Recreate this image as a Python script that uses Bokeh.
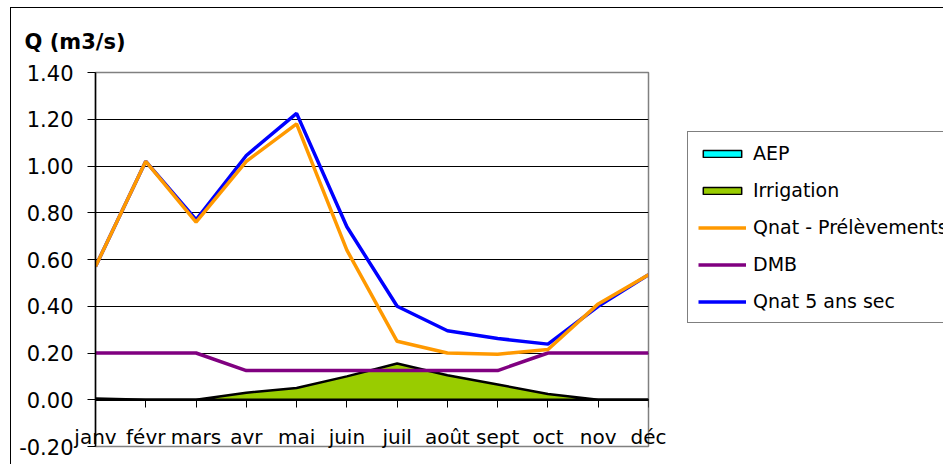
from bokeh.plotting import figure
from bokeh.layouts import row
from bokeh.models import FixedTicker, Legend, LegendItem, Range1d, LinearAxis
from bokeh.embed import file_html
from bokeh.resources import INLINE

months = ["janv", "févr", "mars", "avr", "mai", "juin", "juil", "août", "sept", "oct", "nov", "déc"]
aep = [0.0, 0.0, 0.0, 0.0, 0.0, 0.0, 0.0, 0.0, 0.0, 0.0, 0.0, 0.0]
irrigation = [0.005, 0.0, 0.0, 0.03, 0.05, 0.10, 0.155, 0.105, 0.065, 0.025, 0.0, 0.0]
qnat_prel = [0.57, 1.02, 0.76, 1.02, 1.18, 0.64, 0.25, 0.20, 0.195, 0.215, 0.41, 0.535]
dmb = [0.2, 0.2, 0.2, 0.125, 0.125, 0.125, 0.125, 0.125, 0.125, 0.2, 0.2, 0.2]
qnat5 = [0.57, 1.02, 0.77, 1.045, 1.225, 0.74, 0.40, 0.295, 0.262, 0.238, 0.40, 0.535]
y_ticks = [-0.2, 0.0, 0.2, 0.4, 0.6, 0.8, 1.0, 1.2, 1.4]
labels = ["AEP", "Irrigation", "Qnat - Prélèvements", "DMB", "Qnat 5 ans sec"]

FONT = "DejaVu Sans"
C_AEP, C_IRR, C_QP, C_DMB, C_Q5 = "#00FFFF", "#99CC00", "#FF9900", "#800080", "#0000FF"
x = list(range(len(months)))
base = [0.0] * len(x)
aep_top = [b + a for b, a in zip(base, aep)]
irr_top = [a + i for a, i in zip(aep_top, irrigation)]


def draw_series(fig, lw_area):
    r_aep = fig.patch(x + x[::-1], aep_top + base[::-1], fill_color=C_AEP,
                      line_color="black", line_width=lw_area)
    r_irr = fig.patch(x + x[::-1], irr_top + aep_top[::-1], fill_color=C_IRR,
                      line_color="black", line_width=lw_area)
    r_dmb = fig.line(x, dmb, line_color=C_DMB, line_width=3.5)
    r_q5 = fig.line(x, qnat5, line_color=C_Q5, line_width=3.5)
    r_qp = fig.line(x, qnat_prel, line_color=C_QP, line_width=3.5)
    return [r_aep, r_irr, r_qp, r_dmb, r_q5]


p = figure(width=669, height=456, output_backend="svg", toolbar_location=None,
           x_range=Range1d(0, len(months) - 1), y_range=Range1d(y_ticks[0], y_ticks[-1]),
           min_border_left=84, min_border_right=32, min_border_top=62, min_border_bottom=18,
           title="Q (m3/s)")
p.background_fill_color = "white"
p.border_fill_color = "white"
p.outline_line_color = "#808080"
p.outline_line_width = 1.5

p.title.align = "left"
p.title.offset = -71
p.title.text_font = FONT
p.title.text_font_size = "21px"
p.title.text_font_style = "bold"
p.title.text_color = "black"
p.title.standoff = 38

# y axis
p.yaxis.ticker = FixedTicker(ticks=y_ticks)
p.yaxis.major_label_overrides = {t: f"{t:.2f}" for t in y_ticks}
p.yaxis.major_label_text_font = FONT
p.yaxis.major_label_text_font_size = "21px"
p.yaxis.major_label_text_color = "black"
p.yaxis.major_tick_out = 8
p.yaxis.major_tick_in = 0
p.yaxis.minor_tick_line_color = None
p.yaxis.major_label_standoff = 14
p.yaxis.axis_line_color = "black"
p.yaxis.axis_line_width = 1.5
p.yaxis.major_tick_line_color = "black"

# x axis line and ticks at 0
xa = p.xaxis[0]
xa.ticker = FixedTicker(ticks=x)
xa.fixed_location = 0
xa.major_label_text_font_size = "0px"
xa.major_label_text_alpha = 0
xa.major_tick_out = 8
xa.major_tick_in = 0
xa.minor_tick_line_color = None
xa.axis_line_color = "black"
xa.major_tick_line_color = "black"

# month labels drawn at the bottom of the plot area
xl = LinearAxis(ticker=FixedTicker(ticks=x),
                major_label_overrides={i: m for i, m in zip(x, months)},
                axis_line_color=None, major_tick_line_color=None, minor_tick_line_color=None,
                major_tick_out=0, major_tick_in=0, major_label_standoff=-22,
                major_label_text_font=FONT, major_label_text_font_size="20px",
                major_label_text_color="black")
p.add_layout(xl, "below")

p.xgrid.grid_line_color = None
p.ygrid.ticker = FixedTicker(ticks=y_ticks[1:-1])
p.ygrid.grid_line_color = "black"
p.ygrid.grid_line_width = 1

draw_series(p, 2.5)

# legend panel: separate canvas to the right, so the box is not clipped by the plot area.
# It holds the same series, with a view range that keeps them out of sight.
lg = figure(width=263, height=456, output_backend="svg", toolbar_location=None,
            x_axis_type=None, y_axis_type=None,
            x_range=Range1d(-30, -29), y_range=Range1d(-30, -29),
            min_border_left=0, min_border_right=0, min_border_top=0, min_border_bottom=0)
lg.outline_line_color = None
lg.background_fill_color = "white"
lg.border_fill_color = "white"
proxies = draw_series(lg, 1.5)

legend = Legend(items=[LegendItem(label=l, renderers=[r]) for l, r in zip(labels, proxies)],
                location=(7, 123))
legend.label_text_font = FONT
legend.label_text_font_size = "19px"
legend.label_text_color = "black"
legend.border_line_color = "black"
legend.border_line_width = 1
legend.background_fill_color = "white"
legend.background_fill_alpha = 1
legend.glyph_width = 48
legend.glyph_height = 9
legend.label_height = 20
legend.spacing = 15
legend.padding = 10
legend.margin = 0
legend.label_standoff = 7
lg.add_layout(legend, "center")

layout = row(p, lg, spacing=0,
             styles={"margin-left": "10px", "margin-top": "7px",
                     "border-left": "1px solid #000", "border-top": "1px solid #000"})

open("out.html", "w").write(file_html(layout, INLINE))
